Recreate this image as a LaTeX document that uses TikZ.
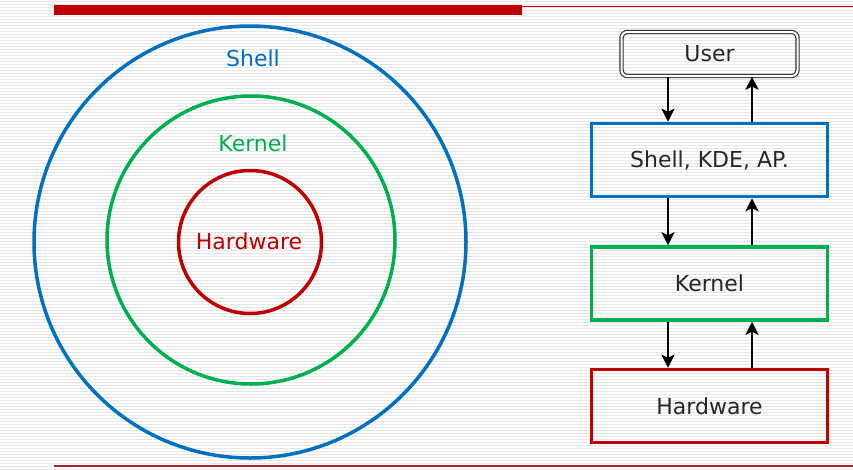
\documentclass[tikz,border=0pt]{standalone}
\usepackage{fontspec}
\setmainfont{DejaVu Sans}
\usetikzlibrary{arrows.meta}
\definecolor{cblue}{RGB}{0,112,192}
\definecolor{cgreen}{RGB}{0,176,80}
\definecolor{cred}{RGB}{192,0,0}
\definecolor{cdred}{RGB}{160,40,40}
\definecolor{stripe}{RGB}{230,230,230}
\tikzset{
  ring/.style={circle, draw=#1, line width=3.5pt, inner sep=0pt},
  ringlabel/.style={text=#1, font=\fontsize{22}{26}\selectfont, inner sep=0pt},
  layer/.style={draw=#1, line width=3.5pt, fill=none, minimum width=236pt, minimum height=73pt, inner sep=0pt, font=\fontsize{22}{26}\selectfont, text=black!85},
  userbox/.style={draw=black!80, double=white, double distance=2pt, line width=1.2pt, rounded corners=6pt, minimum width=176pt, minimum height=44pt, inner sep=0pt, font=\fontsize{22}{26}\selectfont, text=black!85},
  arr/.style={line width=2.6pt, -{Stealth[length=13pt,width=13pt,inset=3pt]}}
}
\begin{document}
\begin{tikzpicture}[x=1pt,y=-1pt]
\useasboundingbox (0,0) rectangle (853,469);
\fill[white] (0,0) rectangle (853,469);
\foreach \k in {0,...,156} {
  \draw[stripe, line width=0.9pt] (0,{1.5+3*\k}) -- (853,{1.5+3*\k});
}
% top and bottom rules
\fill[cred] (54,5) rectangle (522,15);
\draw[cred, line width=1pt] (522,6) -- (853,6);
\draw[cdred, line width=1.5pt] (54,466) -- (853,466);
% rings
\node[ring=cblue, minimum size=432pt] (shellring) at (250,242) {};
\node[ring=cgreen, minimum size=288pt] (kernelring) at (251,240) {};
\node[ring=cred, minimum size=143pt] (hwring) at (250,242) {};
\node[ringlabel=cblue] (shelltxt) at (253,58) {Shell};
\node[ringlabel=cgreen] (kerneltxt) at (253,143) {Kernel};
\node[ringlabel=cred] (hwtxt) at (249,241) {Hardware};
% stack
\node[userbox] (user) at (709.5,54) {User};
\node[layer=cblue] (shell) at (709.5,160) {Shell, KDE, AP.};
\node[layer=cgreen] (kernel) at (709.5,283.5) {Kernel};
\node[layer=cred] (hw) at (709.5,406) {Hardware};
\coordinate (dn) at (668,0);
\coordinate (up) at (752,0);
\draw[arr] (user.south -| dn) -- (shell.north -| dn);
\draw[arr] (shell.north -| up) -- (user.south -| up);
\draw[arr] (shell.south -| dn) -- (kernel.north -| dn);
\draw[arr] (kernel.north -| up) -- (shell.south -| up);
\draw[arr] (kernel.south -| dn) -- (hw.north -| dn);
\draw[arr] (hw.north -| up) -- (kernel.south -| up);
\end{tikzpicture}
\end{document}
